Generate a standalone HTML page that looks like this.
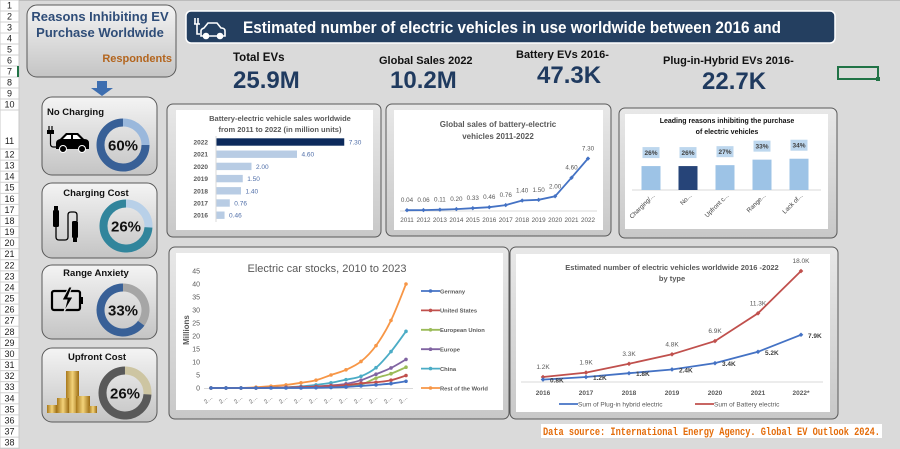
<!DOCTYPE html>
<html><head><meta charset="utf-8"><style>
html,body{margin:0;padding:0;background:#dadada;}
svg{display:block;font-family:"Liberation Sans",sans-serif;}
</style></head><body>
<svg id="root" width="900" height="449" viewBox="0 0 900 449" xmlns="http://www.w3.org/2000/svg">
<defs>
<linearGradient id="cardg" x1="0" y1="0" x2="0" y2="1"><stop offset="0" stop-color="#f4f4f4"/><stop offset="1" stop-color="#c4c4c4"/></linearGradient>
<linearGradient id="frameg" x1="0" y1="0" x2="0" y2="1"><stop offset="0" stop-color="#e8e8e8"/><stop offset="1" stop-color="#c8c8c8"/></linearGradient>
<linearGradient id="coin" x1="0" y1="0" x2="1" y2="0"><stop offset="0" stop-color="#a8791c"/><stop offset=".5" stop-color="#f3d37a"/><stop offset="1" stop-color="#9a6b12"/></linearGradient>
</defs>
<rect x="0" y="0" width="900" height="449" fill="#dadada"/>
<g id="rowhdr">
<rect x="0" y="0" width="19" height="449" fill="#ffffff" stroke="#c8c8c8"/>
</g>
<g stroke="#bcbcbc" stroke-width="1">
<line x1="19" y1="0.5" x2="900" y2="0.5"/>
</g>

<g>
<rect x="27" y="5" width="149" height="72" rx="10" fill="url(#cardg)" stroke="#595959"/>
<text x="100" y="21" text-anchor="middle" font-size="13" font-weight="bold" fill="#2f4d78">Reasons Inhibiting EV</text>
<text x="100" y="37" text-anchor="middle" font-size="13" font-weight="bold" fill="#2f4d78">Purchase Worldwide</text>
<text x="172" y="62" text-anchor="end" font-size="11" font-weight="bold" fill="#b3651e">Respondents</text>
</g>
<path d="M97 81 h10 v7 h6 l-11 8 l-11 -8 h6z" fill="#3d6eb0"/>

<g>
<rect x="42" y="97" width="115" height="78" rx="10" fill="url(#cardg)" stroke="#595959"/>
<text x="47" y="115" font-size="9.5" font-weight="bold" fill="#111">No Charging</text>
<g>
<path d="M49 126 v5 M52 126 v5" stroke="#000" stroke-width="1.2"/><rect x="47" y="130" width="7" height="4" fill="#000"/>
<path d="M50.5 134 v10 q0 3 3 3 h3" stroke="#000" fill="none" stroke-width="1.2"/>
<path d="M56 149 v-6 q0 -3 4 -4 l6 -6 h12 l6 6 q5 0 5 4 v6z" fill="#000"/>
<path d="M63 139 l4 -4 h4 v4z M73 135 h4 l4 4 h-8z" fill="#fff"/>
<circle cx="63" cy="149" r="3.5" fill="#000" stroke="#fff"/><circle cx="82" cy="149" r="3.5" fill="#000" stroke="#fff"/>
</g>
</g>
<g>
<rect x="42" y="183" width="115" height="75" rx="10" fill="url(#cardg)" stroke="#595959"/>
<text x="96" y="196" text-anchor="middle" font-size="9.5" font-weight="bold" fill="#111">Charging Cost</text>
<g>
<rect x="53" y="210" width="6" height="17" rx="1.5" fill="#000"/><path d="M54 206 h4 v4 h-4z" fill="#000"/>
<path d="M56 227 v10 q0 3 3 3 h6 q3 0 3 -3 v-22 q0 -3 3 -3 h3 q3 0 3 3 v6" stroke="#000" fill="none" stroke-width="1.3"/>
<rect x="72" y="221" width="6" height="17" rx="1.5" fill="#000"/><path d="M73 238 h4 v4 h-4z" fill="#000"/>
</g>
</g>
<g>
<rect x="42" y="265" width="115" height="74" rx="10" fill="url(#cardg)" stroke="#595959"/>
<text x="96" y="276" text-anchor="middle" font-size="9.5" font-weight="bold" fill="#111">Range Anxiety</text>
<g>
<rect x="52" y="291" width="28" height="19" rx="2" fill="none" stroke="#000" stroke-width="2.2"/>
<rect x="80" y="297" width="3" height="7" fill="#000"/>
<path d="M69 287 l-7 13 h5 l-3 12 l9 -15 h-5 l4 -10z" fill="#000" stroke="#e0e0e0" stroke-width="1"/>
</g>
</g>
<g>
<rect x="42" y="348" width="115" height="74" rx="10" fill="url(#cardg)" stroke="#595959"/>
<text x="97" y="360" text-anchor="middle" font-size="9.5" font-weight="bold" fill="#111">Upfront Cost</text>
<g>
<rect x="66" y="371" width="13" height="42" fill="url(#coin)"/>
<rect x="57" y="398" width="12" height="15" fill="url(#coin)"/>
<rect x="76" y="396" width="14" height="17" fill="url(#coin)"/>
<rect x="47" y="405" width="10" height="8" fill="url(#coin)"/>
<rect x="89" y="406" width="8" height="7" fill="url(#coin)"/>
</g>
</g>
<g id="donuts"></g>

<g>
<rect x="186" y="11" width="649" height="32" rx="5" fill="#243f60" stroke="#ffffff" stroke-width="1.5"/>
<g fill="none" stroke="#fff" stroke-width="1.6">
<path d="M195 18 v6 M198 18 v6 M194 24 h6 M197 24 v10 h3"/>
<path d="M201 36 v-5 q0 -2 3 -3 l4 -5 h9 l4 5 q4 0 4 3 v5z" fill="#243f60"/>
<circle cx="206" cy="36" r="2.5" fill="#fff"/><circle cx="220" cy="36" r="2.5" fill="#fff"/>
</g>
<text x="243" y="33" font-size="16.5" font-weight="bold" fill="#ffffff" textLength="538" lengthAdjust="spacingAndGlyphs">Estimated number of electric vehicles in use worldwide between 2016 and</text>
</g>

<g>
<text x="233" y="61" font-size="11.5" font-weight="bold" fill="#111">Total EVs</text>
<text x="233" y="88" font-size="24" font-weight="bold" fill="#1f3a5f">25.9M</text>
</g>
<g>
<text x="379" y="64" font-size="11" font-weight="bold" fill="#111">Global Sales 2022</text>
<text x="390" y="88" font-size="24" font-weight="bold" fill="#1f3a5f">10.2M</text>
</g>
<g>
<text x="516" y="58" font-size="11" font-weight="bold" fill="#111">Battery EVs 2016-</text>
<text x="537" y="83" font-size="24" font-weight="bold" fill="#1f3a5f">47.3K</text>
</g>
<g>
<text x="663" y="64" font-size="11" font-weight="bold" fill="#111">Plug-in-Hybrid EVs 2016-</text>
<text x="702" y="89" font-size="24" font-weight="bold" fill="#1f3a5f">22.7K</text>
</g>
<g>
<rect x="838" y="67" width="40" height="12" fill="none" stroke="#217346" stroke-width="2"/>
<rect x="876" y="77" width="4" height="4" fill="#217346"/>
</g>

<g><rect x="167" y="104" width="214" height="133" rx="6" fill="url(#frameg)" stroke="#595959"/><rect x="176" y="110" width="197" height="120" fill="#fff"/></g>
<g><rect x="386" y="104" width="225" height="132" rx="6" fill="url(#frameg)" stroke="#595959"/><rect x="394" y="110" width="209" height="120" fill="#fff"/></g>
<g><rect x="619" y="108" width="218" height="130" rx="6" fill="url(#frameg)" stroke="#595959"/><rect x="625" y="114" width="203" height="115" fill="#fff"/></g>
<g><rect x="169" y="247" width="340" height="172" rx="6" fill="url(#frameg)" stroke="#595959"/><rect x="176" y="253" width="327" height="157" fill="#fff"/></g>
<g><rect x="510" y="247" width="328" height="172" rx="6" fill="url(#frameg)" stroke="#595959"/><rect x="516" y="254" width="314" height="158" fill="#fff"/></g>

<g id="c1"></g><g id="c2"></g><g id="c3"></g><g id="c4"></g><g id="c5"></g>

<g>
<rect x="541" y="424" width="341" height="14" fill="#ffffff"/>
<text x="543" y="435" font-size="11" font-weight="bold" fill="#e46c0a" font-family="Liberation Mono, monospace" textLength="337" lengthAdjust="spacingAndGlyphs">Data source: International Energy Agency. Global EV Outlook 2024.</text>
</g>
</svg>
<script>
const NS='http://www.w3.org/2000/svg';
function mk(tag,attrs,parent,txt){const e=document.createElementNS(NS,tag);for(const k in attrs)e.setAttribute(k,attrs[k]);if(txt!==undefined)e.textContent=txt;parent.appendChild(e);return e;}
function pts(xs,ys){return xs.map((x,i)=>x.toFixed(1)+','+ys[i].toFixed(1)).join(' ');}

const rh=document.getElementById('rowhdr');
for(let i=1;i<=38;i++){
  let cy, top, bot;
  if(i<=10){top=(i-1)*11;bot=i*11;cy=top+8.5;}
  else if(i===11){top=110;bot=149;cy=144;}
  else{top=149+(i-12)*11.08;bot=top+11.08;cy=top+8.5;}
  const t=mk('text',{x:9.5,y:cy,'text-anchor':'middle','font-size':'9',fill:'#222'},rh,String(i));
  
  
  const l=mk('line',{x1:0,y1:bot,x2:19,y2:bot,stroke:'#d0d0d0'},rh);
  
  
}
mk('rect',{x:17,y:66,width:2,height:11,fill:'#217346'},rh);

const donutLabels=['No Charging','Charging Cost','Range Anxiety','Upfront Cost'];
const donutValues=[60,26,33,26];
const donutLightShare=[25,26,35,26];
const donutCX=[123,126,123,125],donutCY=[145,226,310,393];
const donutMain=['#386097','#31859c','#386097','#595959'],donutLight=['#9ab8dc','#b8d0e8','#a6a6a6','#cdc5a2'];
const dg=document.getElementById('donuts');
function arc(cx,cy,r,a0,a1){const p=a=>[cx+r*Math.sin(a*2*Math.PI),cy-r*Math.cos(a*2*Math.PI)];const [x0,y0]=p(a0),[x1,y1]=p(a1);return `M${x0} ${y0} A${r} ${r} 0 ${(a1-a0)>0.5?1:0} 1 ${x1} ${y1}`;}
donutValues.forEach((v,i)=>{
  const g=mk('g',{},dg);
  
  
  const f=donutLightShare[i]/100;
  const a=mk('path',{d:arc(donutCX[i],donutCY[i],22.5,0,f),stroke:donutLight[i],'stroke-width':8,fill:'none'},g);
  
  
  const b=mk('path',{d:arc(donutCX[i],donutCY[i],22.5,f,0.9999),stroke:donutMain[i],'stroke-width':8,fill:'none'},g);
  
  
  const t=mk('text',{x:donutCX[i],y:donutCY[i]+5.5,'text-anchor':'middle','font-size':'15','font-weight':'bold',fill:'#111'},g,v+'%');
  
  
});

const c1Years=['2022','2021','2020','2019','2018','2017','2016'];
const c1Values=[7.30,4.60,2.00,1.50,1.40,0.76,0.46];
(function(){
  const g=document.getElementById('c1');
  const x0=216,sx=v=>x0+v*17.5,rowY=i=>142+i*12.2;
  let t=mk('text',{x:280,y:121,'text-anchor':'middle','font-size':'7.5','font-weight':'bold',fill:'#595959'},g,'Battery-electric vehicle sales worldwide');
  
  
  t=mk('text',{x:280,y:132,'text-anchor':'middle','font-size':'7.5','font-weight':'bold',fill:'#595959'},g,'from 2011 to 2022 (in million units)');
  
  
  const ax=mk('line',{x1:x0,y1:136,x2:x0,y2:222,stroke:'#d9d9d9'},g);
  
  
  c1Values.forEach((v,i)=>{
    const y=rowY(i);
    const r=mk('rect',{x:x0+0.5,y:y-3.7,width:sx(v)-x0,height:7.4,fill:i===0?'#0c2a5c':'#b8cce4'},g);
    
    
    const l=mk('text',{x:208,y:y+2.5,'text-anchor':'end','font-size':'6.5','font-weight':'bold',fill:'#595959'},g,c1Years[i]);
    
    
    const vl=mk('text',{x:sx(v)+5,y:y+2.5,'font-size':'6.5',fill:'#4f6ea8'},g,v.toFixed(2));
    
    
  });
})();

const c2Years=['2011','2012','2013','2014','2015','2016','2017','2018','2019','2020','2021','2022'];
const c2Values=[0.04,0.06,0.11,0.20,0.33,0.46,0.76,1.40,1.50,2.00,4.60,7.30];
(function(){
  const g=document.getElementById('c2');
  const sx=i=>407+i*(181/11),sy=v=>210.5-v*7.12;
  let t=mk('text',{x:498,y:127,'text-anchor':'middle','font-size':'8','font-weight':'bold',fill:'#595959'},g,'Global sales of battery-electric');
  
  
  t=mk('text',{x:498,y:139,'text-anchor':'middle','font-size':'8','font-weight':'bold',fill:'#595959'},g,'vehicles 2011-2022');
  
  
  const ax=mk('line',{x1:400,y1:211,x2:597,y2:211,stroke:'#d9d9d9'},g);
  
  
  const xs=c2Values.map((v,i)=>sx(i)),ys=c2Values.map(sy);
  const pl=mk('polyline',{points:pts(xs,ys),fill:'none',stroke:'#4472c4','stroke-width':1.8},g);
  
  
  c2Values.forEach((v,i)=>{
    const m=mk('path',{d:`M${xs[i]} ${ys[i]-2.2} l2.2 2.2 l-2.2 2.2 l-2.2 -2.2z`,fill:'#4472c4'},g);
    
    
    const l=mk('text',{x:xs[i],y:ys[i]-8,'text-anchor':'middle','font-size':'6.3',fill:'#595959'},g,v.toFixed(2));
    
    
    const xl=mk('text',{x:xs[i],y:222,'text-anchor':'middle','font-size':'6.3',fill:'#595959'},g,c2Years[i]);
    
    
  });
})();

const c3Cats=['Charging/...','No...','Upfront c...','Range...','Lack of...'];
const c3Values=[26,26,27,33,34];
(function(){
  const g=document.getElementById('c3');
  const base=190,sy=v=>base-v*0.92,cx=i=>651+i*37;
  let t=mk('text',{x:727,y:123,'text-anchor':'middle','font-size':'7','font-weight':'bold',fill:'#111'},g,'Leading reasons inhibiting the purchase');
  
  
  t=mk('text',{x:727,y:134,'text-anchor':'middle','font-size':'7','font-weight':'bold',fill:'#111'},g,'of electric vehicles');
  
  
  const ax=mk('line',{x1:632,y1:base,x2:821,y2:base,stroke:'#d9d9d9'},g);
  
  
  c3Values.forEach((v,i)=>{
    const r=mk('rect',{x:cx(i)-9.5,y:sy(v),width:19,height:base-sy(v),fill:i===1?'#264478':'#9dc3e6'},g);
    
    
    const bx=mk('rect',{x:cx(i)-8.5,y:sy(v)-19,width:17,height:11,fill:'#bdd7ee'},g);
    
    
    const l=mk('text',{x:cx(i),y:sy(v)-11,'text-anchor':'middle','font-size':'6.5','font-weight':'bold',fill:'#404040'},g,v+'%');
    
    
    const xl=mk('text',{x:cx(i)+4,y:base+6,'text-anchor':'end','font-size':'6.3',fill:'#404040',transform:`rotate(-45 ${cx(i)+4} ${base+6})`},g,c3Cats[i]);
    
    
  });
})();

const c4Years=[2010,2011,2012,2013,2014,2015,2016,2017,2018,2019,2020,2021,2022,2023];
const c4Yticks=[0,5,10,15,20,25,30,35,40,45];
const c4Names=['Germany','United States','European Union','Europe','China','Rest of the World'];
const c4Colors=['#4472c4','#c0504d','#9bbb59','#8064a2','#4bacc6','#f79646'];
const sGermany=[0,0,0,0,0,0,0,0.1,0.2,0.4,0.8,1.2,1.7,2.6];
const sUS=[0,0,0,0,0.1,0.2,0.3,0.5,0.8,1.1,1.8,2.2,3,4.8];
const sEU=[0,0,0,0,0.1,0.1,0.2,0.3,0.5,0.8,1.3,3.8,5.5,8];
const sEurope=[0,0,0,0,0.1,0.2,0.4,0.6,1,1.6,3,5.3,7.7,11];
const sChina=[0,0,0,0,0.1,0.3,0.6,1.2,2,3.2,4.5,7.8,14,21.8];
const sRest=[0,0,0,0.3,0.7,1.2,2,3,5,7,10.2,16.3,26,40];
(function(){
  const g=document.getElementById('c4');
  const series=[sGermany,sUS,sEU,sEurope,sChina,sRest];
  const sx=i=>211+i*15,sy=v=>388-v*(117/45);
  let t=mk('text',{x:327,y:272,'text-anchor':'middle','font-size':'11',fill:'#595959'},g,'Electric car stocks, 2010 to 2023');
  
  
  t=mk('text',{x:189,y:330,'text-anchor':'middle','font-size':'8','font-weight':'bold',fill:'#595959',transform:'rotate(-90 189 330)'},g,'Millions');
  
  
  c4Yticks.forEach(v=>{
    const l=mk('text',{x:200,y:sy(v)+2.5,'text-anchor':'end','font-size':'7',fill:'#595959'},g,String(v));
    
    
  });
  const ax=mk('line',{x1:204,y1:388.5,x2:413,y2:388.5,stroke:'#d9d9d9'},g);
  
  
  c4Years.forEach((y,i)=>{
    const x=sx(i);
    const l=mk('text',{x:x+2,y:398,'text-anchor':'end','font-size':'6',fill:'#595959',transform:`rotate(-40 ${x+2} 398)`},g,'2…');
    
    
  });
  for(let s=series.length-1;s>=0;s--){
    const xs=series[s].map((v,i)=>sx(i)),ys=series[s].map(sy);
    let d='M'+xs[0]+' '+ys[0];
    for(let i=1;i<xs.length;i++){
      const x0=xs[i-1],y0=ys[i-1],x1=xs[i],y1=ys[i];
      const xp=i>1?xs[i-2]:x0,yp=i>1?ys[i-2]:y0,xn=i<xs.length-1?xs[i+1]:x1,yn=i<xs.length-1?ys[i+1]:y1;
      d+=` C${x0+(x1-xp)/6} ${y0+(y1-yp)/6} ${x1-(xn-x0)/6} ${y1-(yn-y0)/6} ${x1} ${y1}`;
    }
    const p=mk('path',{d:d,fill:'none',stroke:c4Colors[s],'stroke-width':1.8},g);
    
    
    xs.forEach((x,i)=>{
      const m=mk('circle',{cx:x,cy:ys[i],r:1.8,fill:c4Colors[s]},g);
      
      
    });
  }
  c4Names.forEach((n,i)=>{
    const y=291+i*19.4;
    const lg=mk('g',{},g);
    
    
    mk('line',{x1:421,y1:y,x2:440,y2:y,stroke:c4Colors[i],'stroke-width':1.8},lg);
    mk('circle',{cx:430.5,cy:y,r:1.8,fill:c4Colors[i]},lg);
    mk('text',{x:440,y:y+2.3,'font-size':'5.8','font-weight':'bold',fill:'#595959'},lg,n);
  });
})();

const c5Years=['2016','2017','2018','2019','2020','2021','2022*'];
const c5Plug=[0.8,1.2,1.8,2.4,3.4,5.2,7.9];
const c5Battery=[1.2,1.9,3.3,4.8,6.9,11.3,18.0];
(function(){
  const g=document.getElementById('c5');
  const sx=i=>543+i*43,sy=v=>384.6-v*6.31;
  let t=mk('text',{x:672,y:270,'text-anchor':'middle','font-size':'7.5','font-weight':'bold',fill:'#595959'},g,'Estimated number of electric vehicles worldwide 2016 -2022');
  
  
  t=mk('text',{x:672,y:281,'text-anchor':'middle','font-size':'7.5','font-weight':'bold',fill:'#595959'},g,'by type');
  
  
  const ax=mk('line',{x1:521,y1:382,x2:823,y2:382,stroke:'#d9d9d9'},g);
  
  
  c5Years.forEach((y,i)=>{
    const l=mk('text',{x:sx(i),y:395,'text-anchor':'middle','font-size':'6.5','font-weight':'bold',fill:'#595959'},g,y);
    
    
  });
  const defs=[[c5Battery,'#c0504d','battery-electric-line'],[c5Plug,'#4472c4','plug-in-hybrid-line']];
  defs.forEach(([vals,col,name],k)=>{
    const xs=vals.map((v,i)=>sx(i)),ys=vals.map(sy);
    const pl=mk('polyline',{points:pts(xs,ys),fill:'none',stroke:col,'stroke-width':1.8},g);
    
    
    vals.forEach((v,i)=>{
      const m=mk('path',{d:`M${xs[i]} ${ys[i]-2.3} l2.3 2.3 l-2.3 2.3 l-2.3 -2.3z`,fill:col},g);
      
      
      let l;
      if(k===0){l=mk('text',{x:xs[i],y:ys[i]-8,'text-anchor':'middle','font-size':'6.5',fill:'#595959'},g,v.toFixed(1)+'K');}
      else{l=mk('text',{x:xs[i]+7,y:ys[i]+3,'font-size':'6.5','font-weight':'bold',fill:'#404040'},g,v.toFixed(1)+'K');}
      
      
    });
  });
  const lg1=mk('g',{},g);
  
  
  mk('line',{x1:559,y1:404,x2:578,y2:404,stroke:'#4472c4','stroke-width':1.8},lg1);
  mk('text',{x:578,y:406.5,'font-size':'6.5',fill:'#595959'},lg1,'Sum of Plug-in hybrid electric');
  const lg2=mk('g',{},g);
  
  
  mk('line',{x1:695,y1:404,x2:714,y2:404,stroke:'#c0504d','stroke-width':1.8},lg2);
  mk('text',{x:714,y:406.5,'font-size':'6.5',fill:'#595959'},lg2,'Sum of Battery electric');
})();
</script>
</body></html>
